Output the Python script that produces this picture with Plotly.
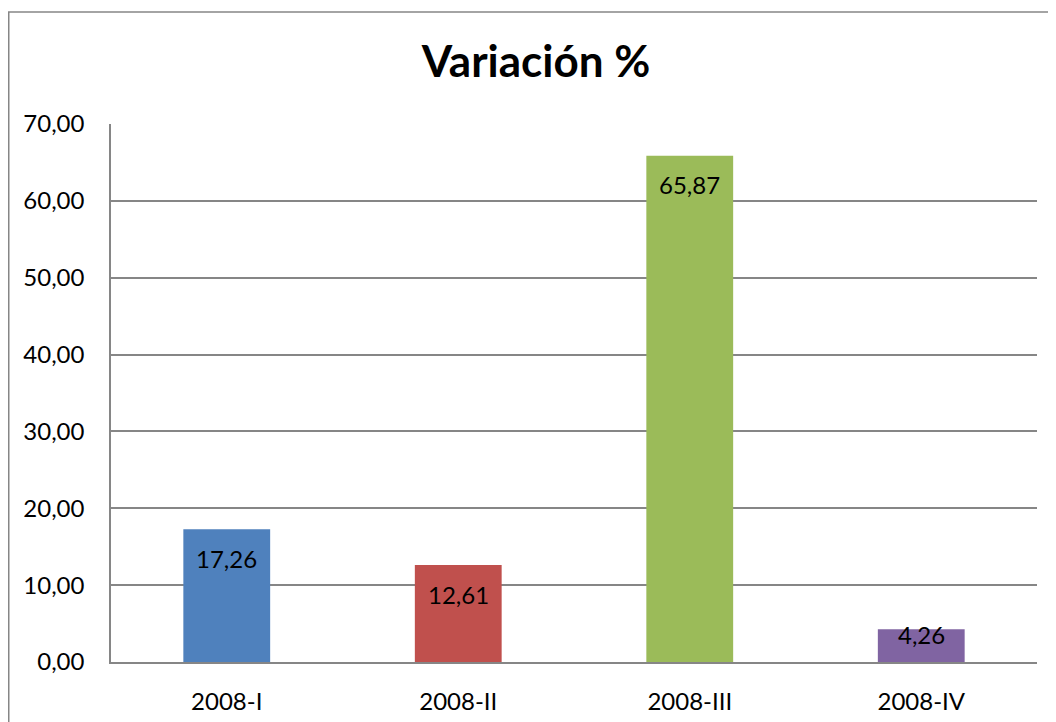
import plotly.graph_objects as go

categories = ["2008-I", "2008-II", "2008-III", "2008-IV"]
values = [17.26, 12.61, 65.87, 4.26]
labels = ["17,26", "12,61", "65,87", "4,26"]
colors = ["#4F81BD", "#C0504D", "#9BBB59", "#8064A2"]
label_shift = [-29, -29, -29, -5]
tick_vals = [0, 10, 20, 30, 40, 50, 60, 70]
tick_text = ["0,00", "10,00", "20,00", "30,00", "40,00", "50,00", "60,00", "70,00"]

# page body has an 8px margin, so the figure is drawn 8px smaller
W, H = 1048, 714
ml, mr, mt, mb = 103, 19, 116, 60
FONT = "Lato"

fig = go.Figure()
fig.add_trace(go.Bar(
    x=categories, y=values, marker=dict(color=colors, line=dict(width=0)),
    width=0.375, hoverinfo="skip", showlegend=False,
))

for c, v, t, s in zip(categories, values, labels, label_shift):
    fig.add_annotation(x=c, y=v, text=t, showarrow=False, yanchor="middle",
                       yshift=s, font=dict(family=FONT, size=24, color="black"))

pw = W - ml - mr
ph = H - mt - mb
# outer chart border (extends past the right/bottom of the view)
fig.add_shape(type="rect", xref="paper", yref="paper",
              x0=(0.75 - ml) / pw, x1=(W + 20 - ml) / pw,
              y0=-(mb + 20) / ph, y1=(H - 4 - mb) / ph,
              line=dict(color="#868686", width=1.5), fillcolor="rgba(0,0,0,0)",
              layer="below")

fig.update_layout(
    width=W, height=H,
    margin=dict(l=ml, r=mr, t=mt, b=mb, autoexpand=False),
    paper_bgcolor="white", plot_bgcolor="white",
    title=dict(text="<b>Variación %</b>", x=528 / W, xanchor="center",
               y=1 - 54 / H, yanchor="middle",
               font=dict(family=FONT, size=44, color="black")),
    bargap=0.625,
    xaxis=dict(showgrid=False, showline=True, linecolor="#868686", linewidth=1.5,
               ticks="", tickfont=dict(family=FONT, size=24, color="black"),
               ticklabelstandoff=17, automargin=False),
    yaxis=dict(range=[0, 70], tickvals=tick_vals, ticktext=tick_text,
               showgrid=True, gridcolor="#868686", gridwidth=1.5,
               showline=True, linecolor="#868686", linewidth=1.5,
               zeroline=False, ticks="",
               tickfont=dict(family=FONT, size=24, color="black"),
               ticklabelstandoff=20, automargin=False),
)

fig.write_html("out.html")
